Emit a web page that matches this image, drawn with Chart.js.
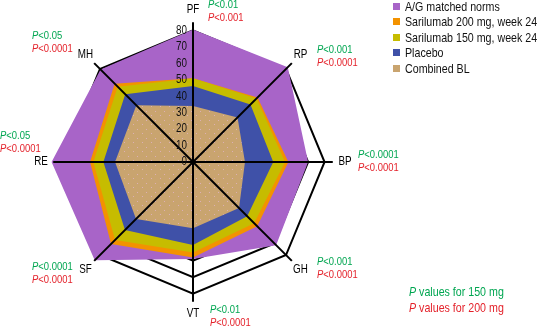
<!DOCTYPE html>
<html>
<head>
<meta charset="utf-8">
<script src="https://cdn.jsdelivr.net/npm/chart.js@4.4.0/dist/chart.umd.min.js"></script>
<style>
  html, body { margin: 0; padding: 0; background: #fff; }
  body {
    width: 539px; height: 326px; position: relative; overflow: hidden;
    font-family: "Liberation Sans", Arial, sans-serif;
  }
  #radarChart { position: absolute; left: 0; top: 0; }
  /* no narrow font installed, so squeeze regular Liberation Sans */
  .cond { display: inline-block; transform: scaleX(0.82); transform-origin: 0 50%; white-space: nowrap; }
  #legend { position: absolute; left: 393px; top: -1px; font-size: 13px; color: #111; }
  #legend .row { position: relative; height: 15.4px; line-height: 15.4px; padding-left: 12px; white-space: nowrap; }
  #legend .box { position: absolute; left: 0; top: 4px; width: 7px; height: 7px; }
  .pv { position: absolute; font-size: 11.5px; line-height: 12.5px; white-space: nowrap; }
  .note { position: absolute; left: 409px; top: 284px; font-size: 13px; line-height: 16px; white-space: nowrap; }
  .g { color: #00a651; }
  .r { color: #e4222b; }
</style>
</head>
<body>
<canvas id="radarChart" width="539" height="326"></canvas>
<div id="legend"></div>
<div id="pvalues"></div>
<div class="note">
  <div class="g"><span class="cond"><i>P</i> values for 150 mg</span></div>
  <div class="r"><span class="cond"><i>P</i> values for 200 mg</span></div>
</div>
<script>
// SF-36 domains, clockwise from the top
const domains = ['PF', 'RP', 'BP', 'GH', 'VT', 'SF', 'RE', 'MH'];

// Domain scores
const normsValues    = [80.5, 81.5, 70.0, 71.5, 59.0, 84.5, 86.0, 79.5];
const sari200Values  = [51.0, 55.5, 58.0, 55.2, 58.0, 70.5, 62.6, 67.4];
const sari150Values  = [50.9, 54.7, 56.0, 52.6, 55.0, 67.0, 60.6, 64.8];
const placeboValues  = [46.2, 49.4, 48.8, 46.6, 50.5, 58.5, 54.5, 58.3];
const baselineValues = [34.0, 38.3, 31.6, 39.6, 40.3, 49.0, 47.4, 48.7];

// Radial tick labels shown on the PF axis
const tickValues = [0, 10, 20, 30, 40, 50, 60, 70, 80];

// P values next to each domain (150 mg in green, 200 mg in red)
const pValues150 = ['0.01', '0.001', '0.0001', '0.001', '0.01', '0.0001', '0.05', '0.05'];
const pValues200 = ['0.001', '0.0001', '0.0001', '0.0001', '0.0001', '0.0001', '0.0001', '0.0001'];

const seriesNames = ['A/G matched norms', 'Sarilumab 200 mg, week 24', 'Sarilumab 150 mg, week 24', 'Placebo', 'Combined BL'];

document.addEventListener('DOMContentLoaded', () => {
    const colors = ['#a864c8', '#f39200', '#c6bc00', '#3f51a8', '#c9a46f'];
    const font = '"Liberation Sans", Arial, sans-serif';
    const squeeze = 0.82;

    // tan fill with faint pink speckles, like the baseline area
    const tile = document.createElement('canvas');
    tile.width = 9; tile.height = 9;
    const tctx = tile.getContext('2d');
    tctx.fillStyle = colors[4];
    tctx.fillRect(0, 0, 9, 9);
    tctx.fillStyle = '#dcb0b4';
    tctx.fillRect(2, 3, 1, 1);
    tctx.fillRect(7, 7, 1, 1);
    const ctx = document.getElementById('radarChart').getContext('2d');
    const tanPattern = ctx.createPattern(tile, 'repeat');

    // legend
    const legend = document.getElementById('legend');
    seriesNames.forEach((name, i) => {
        const row = document.createElement('div');
        row.className = 'row';
        row.innerHTML = '<span class="box" style="background:' + colors[i] + '"></span><span class="cond">' + name + '</span>';
        legend.appendChild(row);
    });

    // p value pairs: [left, top]
    const pvPos = [[208, -2], [317, 43], [358, 148], [317, 255], [210, 303], [32, 260], [0, 129], [32, 29]];
    const pv = document.getElementById('pvalues');
    domains.forEach((d, i) => {
        const el = document.createElement('div');
        el.className = 'pv';
        el.style.left = pvPos[i][0] + 'px';
        el.style.top = pvPos[i][1] + 'px';
        el.innerHTML = '<div class="g"><span class="cond"><i>P</i>&lt;' + pValues150[i] + '</span></div>' +
                       '<div class="r"><span class="cond"><i>P</i>&lt;' + pValues200[i] + '</span></div>';
        pv.appendChild(el);
    });

    // condensed text on the canvas
    const narrowText = (c, text, x, y, align) => {
        const w = c.measureText(text).width * squeeze;
        const left = align === 'right' ? x - w : (align === 'center' ? x - w / 2 : x);
        c.save();
        c.translate(left, y);
        c.scale(squeeze, 1);
        c.textAlign = 'left';
        c.fillText(text, 0, 0);
        c.restore();
    };

    // axes, tick labels and domain names on top of the filled areas
    const overlay = {
        id: 'overlay',
        afterDatasetsDraw(chart) {
            const s = chart.scales.r;
            const c = chart.ctx;
            c.save();
            c.strokeStyle = '#000';
            c.lineWidth = 2;
            domains.forEach((d, i) => {
                const p = s.getPointPosition(i, s.getDistanceFromCenterForValue(85));
                c.beginPath();
                c.moveTo(s.xCenter, s.yCenter);
                c.lineTo(p.x, p.y);
                c.stroke();
            });
            c.fillStyle = '#111';
            c.font = '12px ' + font;
            c.textBaseline = 'middle';
            tickValues.forEach(v => {
                narrowText(c, String(v), s.xCenter - 6, s.yCenter - s.getDistanceFromCenterForValue(v), 'right');
            });
            c.fillStyle = '#000';
            c.font = '12px ' + font;
            domains.forEach((d, i) => {
                const p = s.getPointPosition(i, 152);
                narrowText(c, d, p.x, p.y, 'center');
            });
            c.restore();
        }
    };

    const makeSet = (label, values, fill, order) => ({
        label: label,
        data: values,
        backgroundColor: fill,
        borderColor: 'rgba(0,0,0,0)',
        borderWidth: 0,
        pointRadius: 0,
        fill: true,
        order: order
    });

    new Chart(ctx, {
        type: 'radar',
        data: {
            labels: domains,
            datasets: [
                makeSet(seriesNames[0], normsValues, colors[0], 5),
                makeSet(seriesNames[1], sari200Values, colors[1], 4),
                makeSet(seriesNames[2], sari150Values, colors[2], 3),
                makeSet(seriesNames[3], placeboValues, colors[3], 2),
                makeSet(seriesNames[4], baselineValues, tanPattern, 1)
            ]
        },
        options: {
            responsive: false,
            animation: false,
            layout: { padding: { left: 45, right: 198, top: 14, bottom: 16 } },
            plugins: { legend: { display: false }, tooltip: { enabled: false } },
            elements: { line: { tension: 0 } },
            scales: {
                r: {
                    min: 0,
                    max: 90,
                    ticks: { display: false, stepSize: 10 },
                    pointLabels: { display: false },
                    angleLines: { display: false },
                    grid: {
                        lineWidth: 2,
                        color: (c) => (c.tick && c.tick.value <= 80) ? '#000' : 'rgba(0,0,0,0)'
                    }
                }
            }
        },
        plugins: [overlay]
    });
});
</script>
</body>
</html>
